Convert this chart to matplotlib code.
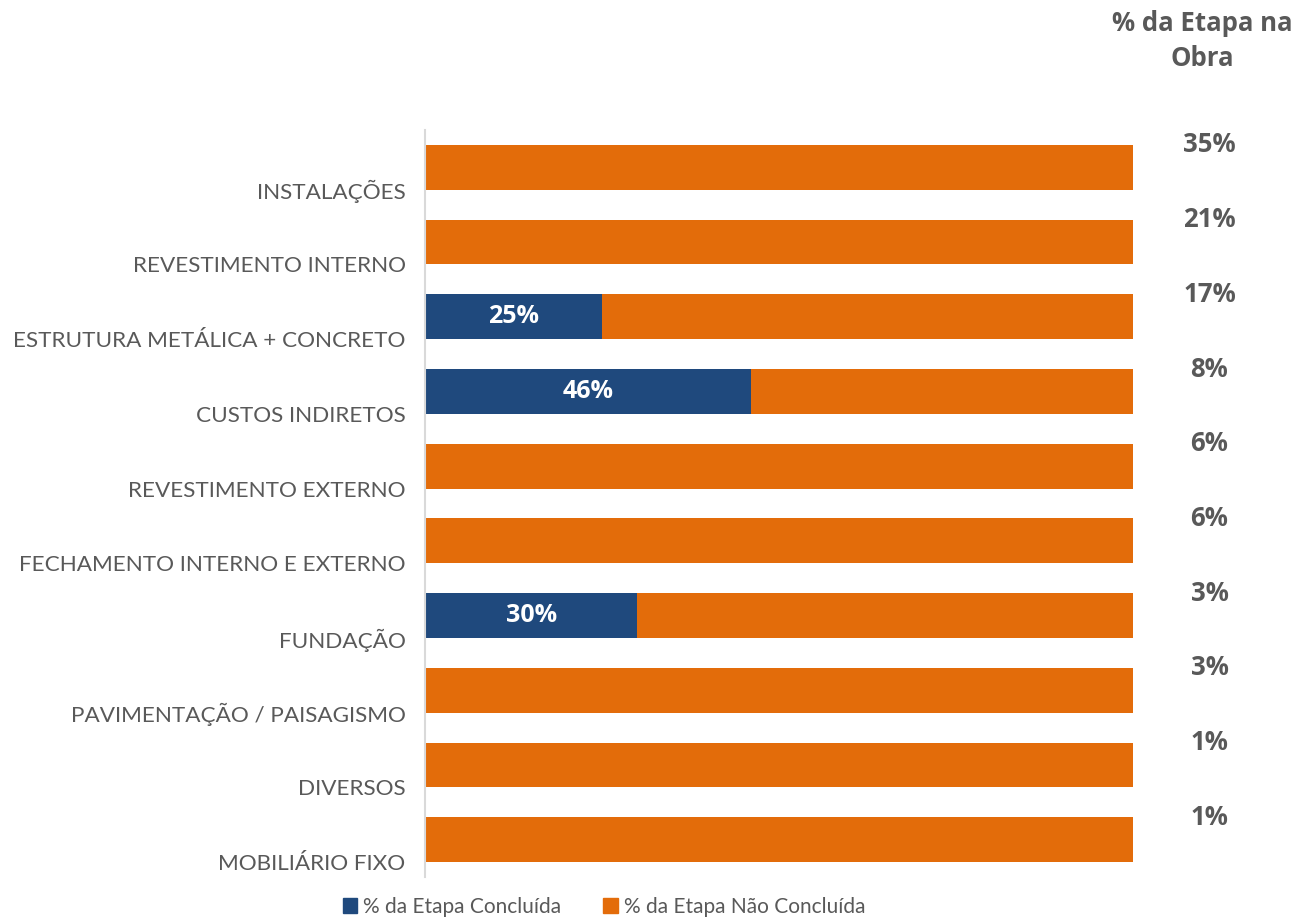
import numpy as np
import matplotlib.pyplot as plt
from matplotlib.patches import Patch
import matplotlib.transforms as mtransforms

# data
etapas = ['INSTALAÇÕES', 'REVESTIMENTO INTERNO', 'ESTRUTURA METÁLICA + CONCRETO',
          'CUSTOS INDIRETOS', 'REVESTIMENTO EXTERNO', 'FECHAMENTO INTERNO E EXTERNO',
          'FUNDAÇÃO', 'PAVIMENTAÇÃO / PAISAGISMO', 'DIVERSOS', 'MOBILIÁRIO FIXO']
concluida = [0.0, 0.0, 0.25, 0.46, 0.0, 0.0, 0.30, 0.0, 0.0, 0.0]
peso_obra = ['35%', '21%', '17%', '8%', '6%', '6%', '3%', '3%', '1%', '1%']

blue = '#1F497D'
orange = '#E36C0A'
grey = '#595959'

plt.rcParams['font.family'] = ['Lato', 'DejaVu Sans']

fig = plt.figure(figsize=(12.94, 9.19), dpi=100)
ax = fig.add_axes([425/1294, 1-877/919, (1133-425)/1294, (877-130)/919])

y = np.arange(len(etapas))
conc = np.array(concluida)
nao = 1 - conc

ax.barh(y, conc, height=0.6, color=blue)
ax.barh(y, nao, left=conc, height=0.6, color=orange)

for yi, c in zip(y, conc):
    if c > 0:
        ax.text(c/2, yi, f'{c*100:.0f}%', color='white', fontsize=18, fontweight='bold',
                family=['Open Sans', 'DejaVu Sans'], ha='center', va='center')

ax.set_xlim(0, 1)
ax.set_ylim(len(etapas) - 0.5, -0.5)
ax.set_yticks(y + 0.3)
ax.set_yticklabels(etapas, fontsize=16.2, color=grey)
ax.tick_params(axis='y', length=0, pad=14)
ax.set_xticks([])
for s in ['top', 'right', 'bottom']:
    ax.spines[s].set_visible(False)
ax.spines['left'].set_color('#D9D9D9')
ax.spines['left'].set_linewidth(1.5)

trans = mtransforms.blended_transform_factory(ax.transAxes, ax.transData)
for yi, p in zip(y, peso_obra):
    ax.text(1.108, yi - 0.3, p, transform=trans, ha='center', va='center', fontsize=18.5,
            fontweight='bold', color=grey, family=['Open Sans', 'DejaVu Sans'])

fig.text(1202/1294, 1-41/919, '% da Etapa na\nObra', ha='center', va='center', fontsize=18.5,
         fontweight='bold', color=grey, family=['Open Sans', 'DejaVu Sans'], linespacing=1.4)

handles = [Patch(color=blue, label='% da Etapa Concluída'),
           Patch(color=orange, label='% da Etapa Não Concluída')]
leg = fig.legend(handles=handles, loc='center', bbox_to_anchor=(604/1294, 1-907/919), ncol=2,
                 frameon=False, fontsize=15, handlelength=0.7, handleheight=0.7,
                 handletextpad=0.3, columnspacing=2.0, labelcolor=grey)

fig.savefig('out.png')
